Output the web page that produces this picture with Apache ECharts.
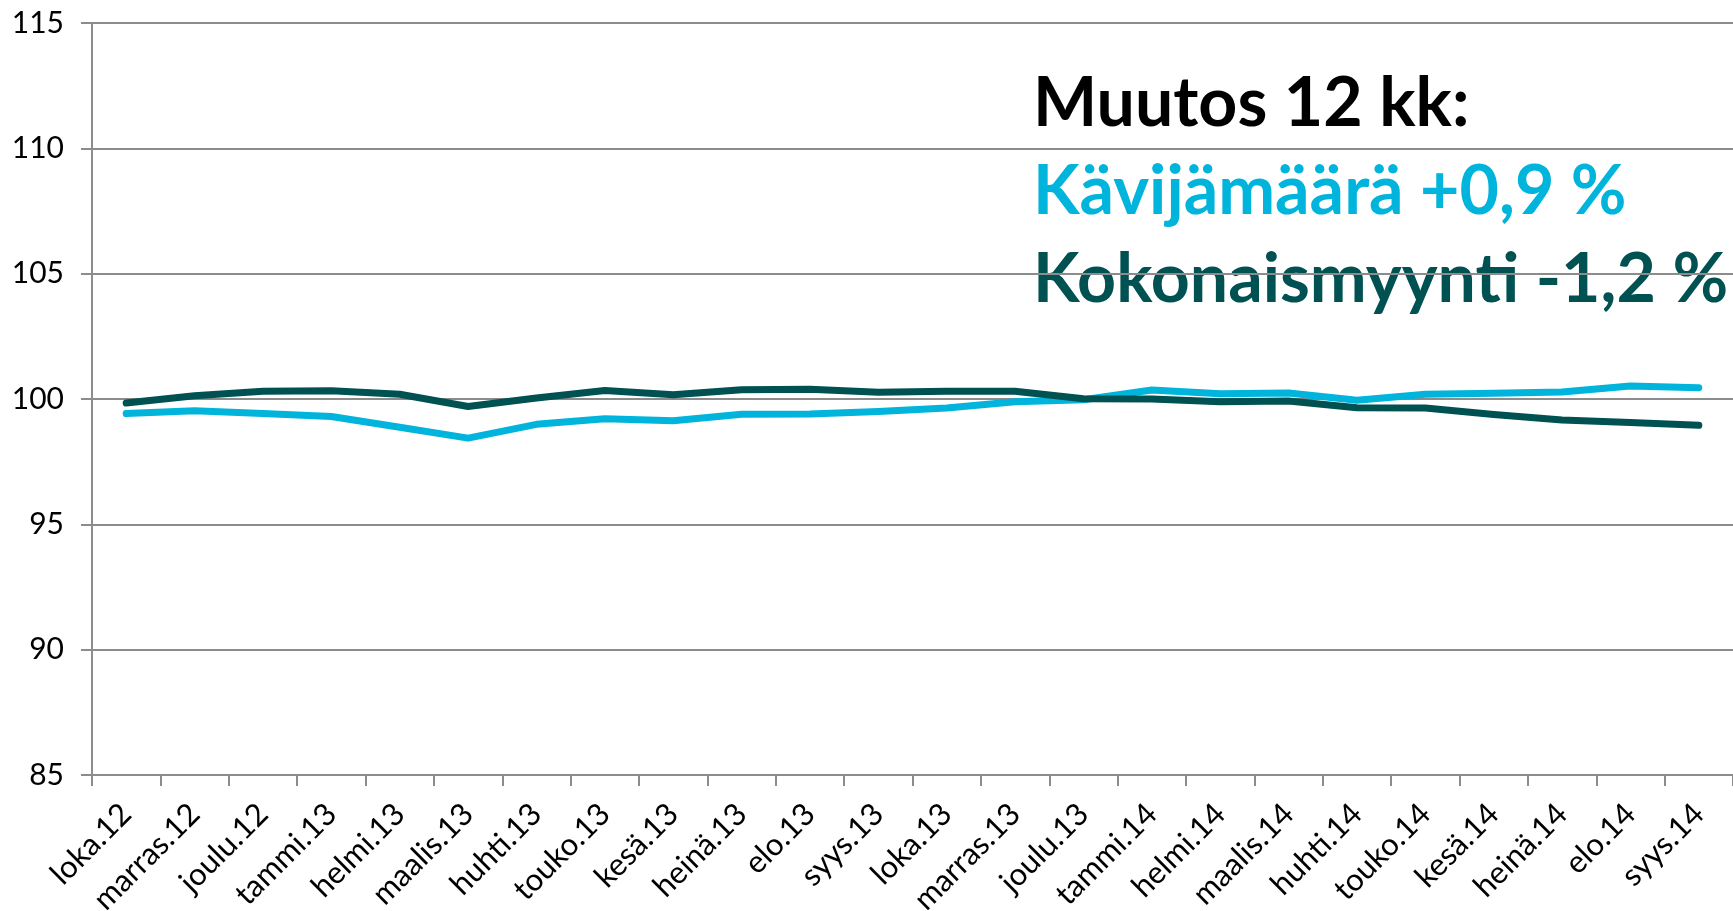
<!DOCTYPE html>
<html>
<head>
<meta charset="utf-8">
<script src="https://cdn.jsdelivr.net/npm/echarts@6/dist/echarts.min.js"></script>
<style>
  html, body { margin: 0; padding: 0; background: #fff; }
  #chart { width: 1733px; height: 911px; }
</style>
</head>
<body>
<div id="chart"></div>
<script>
const months = [
  "loka.12", "marras.12", "joulu.12", "tammi.13", "helmi.13", "maalis.13",
  "huhti.13", "touko.13", "kesä.13", "heinä.13", "elo.13", "syys.13",
  "loka.13", "marras.13", "joulu.13", "tammi.14", "helmi.14", "maalis.14",
  "huhti.14", "touko.14", "kesä.14", "heinä.14", "elo.14", "syys.14"
];
// Kävijämäärä (visitors index)
const visitors = [
  99.42, 99.53, 99.42, 99.30, 98.87, 98.44, 98.99, 99.21, 99.13, 99.39, 99.40, 99.50,
  99.64, 99.89, 99.97, 100.36, 100.21, 100.24, 99.95, 100.19, 100.23, 100.28, 100.52, 100.45
];
// Kokonaismyynti (total sales index)
const sales = [
  99.84, 100.13, 100.31, 100.33, 100.19, 99.70, 100.04, 100.34, 100.17, 100.37, 100.39, 100.27,
  100.31, 100.31, 100.01, 100.00, 99.89, 99.92, 99.65, 99.64, 99.38, 99.16, 99.06, 98.95
];
const noteLines = ["Muutos 12 kk:", "Kävijämäärä +0,9 %", "Kokonaismyynti -1,2 %"];

const chart = echarts.init(document.getElementById("chart"));
const font = "Lato, 'Open Sans', sans-serif";
const option = {
  backgroundColor: "#ffffff",
  animation: false,
  grid: { left: 92, right: 0, top: 23, bottom: 136, containLabel: false, outerBoundsMode: "none" },
  graphic: [
    { type: "text", left: 1033, top: 70, style: { text: noteLines[0], font: "bold 68px " + font, fill: "#000000" } },
    { type: "text", left: 1033, top: 158, style: { text: noteLines[1], font: "bold 68px " + font, fill: "#00b4dc" } },
    { type: "text", left: 1033, top: 246, style: { text: noteLines[2], font: "bold 68px " + font, fill: "#005152" } }
  ],
  xAxis: {
    type: "category",
    data: months,
    boundaryGap: true,
    axisLine: { lineStyle: { color: "#8c8c8c", width: 2 } },
    axisTick: { show: true, alignWithLabel: false, length: 11, lineStyle: { color: "#8c8c8c", width: 2 } },
    axisLabel: { rotate: 45, interval: 0, fontSize: 31, fontFamily: font, color: "#000", margin: 34 }
  },
  yAxis: {
    type: "value",
    min: 85,
    max: 115,
    interval: 5,
    axisLine: { show: true, lineStyle: { color: "#8c8c8c", width: 2 } },
    axisTick: { show: true, length: 11, lineStyle: { color: "#8c8c8c", width: 2 } },
    axisLabel: { fontSize: 30, fontFamily: font, color: "#000", margin: 28 },
    splitLine: { show: true, lineStyle: { color: "#8c8c8c", width: 2 } }
  },
  series: [
    {
      name: "Kävijämäärä",
      type: "line",
      data: visitors,
      symbol: "none",
      lineStyle: { color: "#00b4dc", width: 7, cap: "round", join: "round" },
      z: 3
    },
    {
      name: "Kokonaismyynti",
      type: "line",
      data: sales,
      symbol: "none",
      lineStyle: { color: "#005152", width: 7, cap: "round", join: "round" },
      z: 4
    }
  ]
};
chart.setOption(option);
</script>
</body>
</html>
